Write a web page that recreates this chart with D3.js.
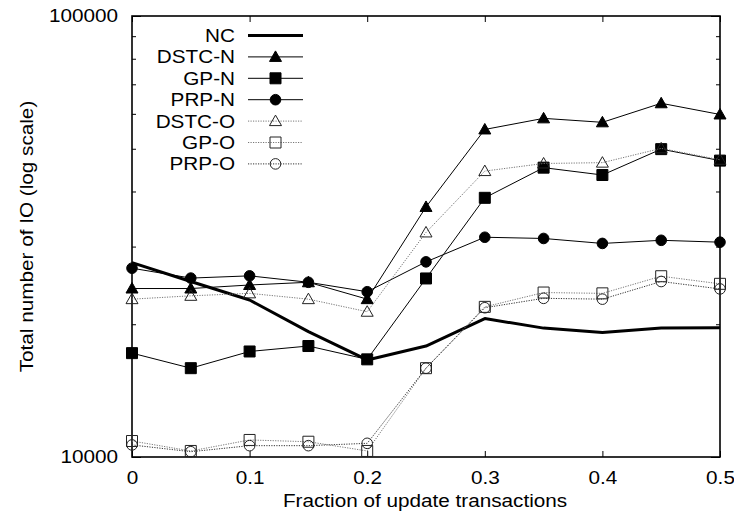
<!DOCTYPE html>
<html>
<head>
<meta charset="utf-8">
<script src="https://cdn.jsdelivr.net/npm/d3@7"></script>
<style>
	body { margin: 0; background: #fff; }
	text { font-family: "Liberation Sans", Arial, Helvetica, sans-serif; font-size: 18.5px; fill: #000; }
</style>
</head>
<body>
<svg id="chart" width="734" height="521"></svg>
<script>
// fraction of update transactions
let fractions = [0, 0.05, 0.1, 0.15, 0.2, 0.25, 0.3, 0.35, 0.4, 0.45, 0.5];

let nc     = [27600, 25000, 22700, 19250, 16600, 17850, 20600, 19600, 19150, 19600, 19650];
let dstcN  = [24100, 24100, 24550, 24900, 22800, 36900, 55300, 58600, 57400, 63400, 59800];
let gpN    = [17200, 15900, 17350, 17850, 16650, 25400, 38700, 45300, 43600, 49900, 47000];
let prpN   = [26800, 25450, 25750, 24900, 23700, 27700, 31500, 31300, 30500, 31000, 30700];
let dstcO  = [22800, 23200, 23500, 22800, 21350, 32300, 44500, 46300, 46500, 50100, 47200];
let gpO    = [10870, 10320, 10930, 10830, 10320, 15900, 21900, 23600, 23500, 25700, 24700];
let prpO   = [10650, 10280, 10610, 10610, 10740, 15900, 21800, 22900, 22800, 25000, 24050];

let seriesNames = ["NC", "DSTC-N", "GP-N", "PRP-N", "DSTC-O", "GP-O", "PRP-O"];
let seriesValues = [nc, dstcN, gpN, prpN, dstcO, gpO, prpO];

let xTicks = [0, 0.1, 0.2, 0.3, 0.4, 0.5];
let yMajor = [10000, 100000];
let yMinor = [20000, 30000, 40000, 50000, 60000, 70000, 80000, 90000];

// style per series: marker shape, filled or not, line style
let styles = [
	{shape: null,       filled: true,  width: 3,   dash: null,  color: "#000"},
	{shape: "triangle", filled: true,  width: 1,   dash: null,  color: "#000"},
	{shape: "square",   filled: true,  width: 1,   dash: null,  color: "#000"},
	{shape: "circle",   filled: true,  width: 1,   dash: null,  color: "#000"},
	{shape: "triangle", filled: false, width: 1,   dash: "1.2,1.3", color: "#777"},
	{shape: "square",   filled: false, width: 1,   dash: "1.2,1.3", color: "#777"},
	{shape: "circle",   filled: false, width: 1,   dash: "1.2,1.3", color: "#333"}
];

// the original lettering is a bit wider than Arial
let stretch = "scale(1.12,1)";

let plotLeft = 132, plotRight = 720, plotTop = 16, plotBottom = 457;

let svg = d3.select("#chart");

let x = d3.scaleLinear().domain([0, 0.5]).range([plotLeft, plotRight]);
let y = d3.scaleLog().domain([10000, 100000]).range([plotBottom, plotTop]);

// marker path generator
function marker(shape, cx, cy) {
	if (shape === "triangle") {
		return "M" + cx + "," + (cy - 6) + "L" + (cx + 6) + "," + (cy + 4.5) + "L" + (cx - 6) + "," + (cy + 4.5) + "Z";
	} else if (shape === "square") {
		return "M" + (cx - 5.5) + "," + (cy - 5.5) + "h11v11h-11Z";
	} else {
		let r = 5.3;
		return "M" + (cx - r) + "," + cy + "a" + r + "," + r + " 0 1,0 " + (2 * r) + ",0a" + r + "," + r + " 0 1,0 " + (-2 * r) + ",0Z";
	}
}

// axes: ticks point inward like gnuplot
svg.append("g")
	.attr("transform", "translate(0," + plotBottom + ")")
	.call(d3.axisBottom(x).tickValues(xTicks).tickSize(-6).tickPadding(14).tickFormat(d3.format("")))
	.call(g => g.select(".domain").remove());

svg.append("g")
	.attr("transform", "translate(0," + plotTop + ")")
	.call(d3.axisTop(x).tickValues(xTicks).tickSize(-6).tickFormat(""))
	.call(g => g.select(".domain").remove());

svg.append("g")
	.attr("transform", "translate(" + plotLeft + ",0)")
	.call(d3.axisLeft(y).tickValues(yMajor).tickSize(-9).tickPadding(12.5).tickFormat(d3.format("d")))
	.call(g => g.select(".domain").remove());

svg.append("g")
	.attr("transform", "translate(" + plotLeft + ",0)")
	.call(d3.axisLeft(y).tickValues(yMinor).tickSize(-4).tickFormat(""))
	.call(g => g.select(".domain").remove());

svg.append("g")
	.attr("transform", "translate(" + plotRight + ",0)")
	.call(d3.axisRight(y).tickValues(yMajor).tickSize(-9).tickFormat(""))
	.call(g => g.select(".domain").remove());

svg.append("g")
	.attr("transform", "translate(" + plotRight + ",0)")
	.call(d3.axisRight(y).tickValues(yMinor).tickSize(-4).tickFormat(""))
	.call(g => g.select(".domain").remove());

svg.selectAll("g").attr("font-size", null).attr("font-family", null);
svg.selectAll(".tick line").attr("stroke", "#000");
svg.selectAll(".tick text").attr("transform", stretch);

// frame
svg.append("rect")
	.attr("x", plotLeft).attr("y", plotTop)
	.attr("width", plotRight - plotLeft).attr("height", plotBottom - plotTop)
	.attr("fill", "none").attr("stroke", "#000").attr("stroke-width", 1.6);

// axis titles
let xTitleX = (plotLeft + plotRight) / 2 - 1;
svg.append("text")
	.attr("transform", "translate(" + xTitleX + ",507) " + stretch)
	.attr("text-anchor", "middle")
	.text("Fraction of update transactions");

svg.append("text")
	.attr("transform", "translate(33," + ((plotTop + plotBottom) / 2) + ") rotate(-90) " + stretch)
	.attr("text-anchor", "middle")
	.text("Total number of IO (log scale)");

// series lines + markers
let line = d3.line().x((d, i) => x(fractions[i])).y(d => y(d));

seriesValues.forEach(function(vals, k) {
	let st = styles[k];
	let g = svg.append("g");
	g.append("path")
		.attr("d", line(vals))
		.attr("fill", "none")
		.attr("stroke", st.color)
		.attr("stroke-width", st.width)
		.attr("stroke-dasharray", st.dash)
		.attr("stroke-linejoin", "round");
	if (st.shape) {
		g.selectAll("path.pt")
			.data(vals)
			.enter()
			.append("path")
			.attr("class", "pt")
			.attr("d", (d, i) => marker(st.shape, x(fractions[i]), y(d)))
			.attr("fill", st.filled ? "#000" : "none")
			.attr("stroke", st.filled ? "#000" : "#222")
			.attr("stroke-width", 1);
	}
});

// legend
let legend = svg.append("g");
seriesNames.forEach(function(name, k) {
	let st = styles[k];
	let ly = 35.5 + k * 21.4;
	legend.append("text")
		.attr("transform", "translate(235," + ly + ") " + stretch)
		.attr("dy", "0.35em")
		.attr("text-anchor", "end")
		.text(name);
	legend.append("line")
		.attr("x1", 248).attr("x2", 303)
		.attr("y1", ly).attr("y2", ly)
		.attr("stroke", st.color)
		.attr("stroke-width", st.width)
		.attr("stroke-dasharray", st.dash);
	if (st.shape) {
		legend.append("path")
			.attr("d", marker(st.shape, 275.5, ly))
			.attr("fill", st.filled ? "#000" : "none")
			.attr("stroke", st.filled ? "#000" : "#222")
			.attr("stroke-width", 1);
	}
});
</script>
</body>
</html>
